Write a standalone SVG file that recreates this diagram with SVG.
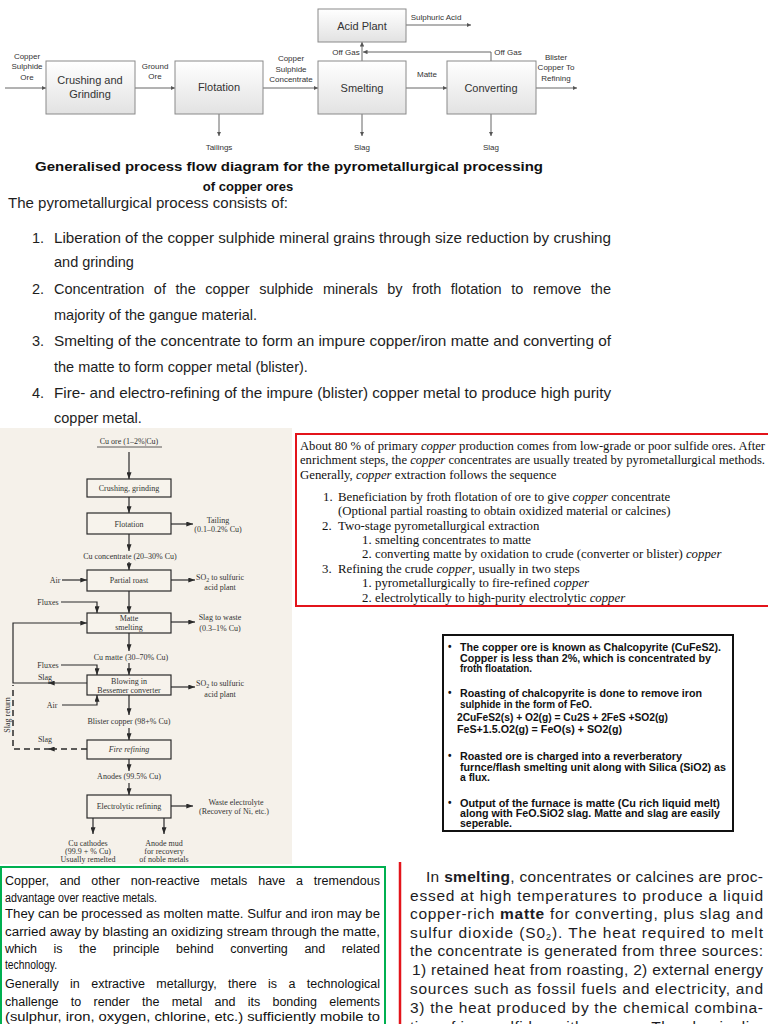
<svg xmlns="http://www.w3.org/2000/svg" width="768" height="1024" viewBox="0 0 768 1024">
<style>
.bx{fill:url(#boxg);stroke:#8a8a8a;stroke-width:1}
.tl{font-family:"Liberation Sans",Arial,sans-serif;font-size:8px;fill:#333;text-anchor:middle}
.tb{font-family:"Liberation Sans",Arial,sans-serif;font-size:11px;fill:#333;text-anchor:middle}
.con{fill:none;stroke:#666;stroke-width:1}
.sc{fill:none;stroke:#2a2a2a;stroke-width:1.2}
.scd{fill:none;stroke:#2a2a2a;stroke-width:1.5;stroke-dasharray:6 4}
.sbx{fill:#f7f3ec;stroke:#2a2a2a;stroke-width:1.2}
.st{font-family:"Liberation Serif","Times New Roman",serif;font-size:8px;fill:#333;text-anchor:middle}
.cap{font-family:"Liberation Sans",Arial,sans-serif;font-size:13px;font-weight:bold;fill:#111}
.li{font-family:"Liberation Sans",Arial,sans-serif;font-size:14.5px;fill:#1e1e1e}
.rt{font-family:"Liberation Serif","Times New Roman",serif;font-size:12.8px;fill:#111}
.bt{font-family:"Liberation Sans",Arial,sans-serif;font-size:10px;font-weight:bold;fill:#111}
.gt{font-family:"Liberation Sans",Arial,sans-serif;font-size:12.5px;fill:#111}
.pt{font-family:"Liberation Sans",Arial,sans-serif;font-size:15.5px;fill:#1c1c24}
</style>
<defs>
<linearGradient id="boxg" x1="0" y1="0" x2="0" y2="1">
<stop offset="0" stop-color="#ffffff"/>
<stop offset="1" stop-color="#e2e2e2"/>
</linearGradient>
<marker id="ah" viewBox="0 0 6 6" refX="6" refY="3" markerWidth="4.5" markerHeight="4.5" orient="auto" markerUnits="userSpaceOnUse">
<path d="M0,0 L6,3 L0,6 z" fill="#555"/>
</marker>
<marker id="sa" viewBox="0 0 8 6" refX="8" refY="3" markerWidth="7" markerHeight="5" orient="auto" markerUnits="userSpaceOnUse">
<path d="M0,0 L8,3 L0,6 z" fill="#2a2a2a"/>
</marker>
<clipPath id="page"><rect x="0" y="0" width="768" height="1024"/></clipPath>
</defs>
<rect x="0" y="0" width="768" height="1024" fill="#ffffff"/>

<!-- ===== Top process flow diagram ===== -->
<g id="connectors">
<path class="con" d="M5,88 H46" marker-end="url(#ah)"/>
<path class="con" d="M135,88 H175" marker-end="url(#ah)"/>
<path class="con" d="M263,88 H318" marker-end="url(#ah)"/>
<path class="con" d="M406,88 H447" marker-end="url(#ah)"/>
<path class="con" d="M536,88 H577" marker-end="url(#ah)"/>
<path class="con" d="M219,114 V136" marker-end="url(#ah)"/>
<path class="con" d="M362,114 V136" marker-end="url(#ah)"/>
<path class="con" d="M491,114 V136" marker-end="url(#ah)"/>
<path class="con" d="M362,61 V42" marker-end="url(#ah)"/>
<path class="con" d="M491,61 V52 H363" marker-end="url(#ah)"/>
<path class="con" d="M406,25 H471" marker-end="url(#ah)"/>
</g>
<g id="crushing">
<rect class="bx" x="46" y="61" width="89" height="53"/>
<text class="tb" x="90" y="84">Crushing and</text>
<text class="tb" x="90" y="98">Grinding</text>
</g>
<g id="flotation">
<rect class="bx" x="175" y="61" width="88" height="53"/>
<text class="tb" x="219" y="91">Flotation</text>
</g>
<g id="smelting">
<rect class="bx" x="318" y="61" width="88" height="53"/>
<text class="tb" x="362" y="92">Smelting</text>
</g>
<g id="acid-plant">
<rect class="bx" x="318" y="9" width="88" height="33"/>
<text class="tb" x="362" y="30">Acid Plant</text>
</g>
<g id="converting">
<rect class="bx" x="447" y="61" width="89" height="53"/>
<text class="tb" x="491" y="92">Converting</text>
</g>
<g id="flow-labels">
<text class="tl" x="27" y="59">Copper</text>
<text class="tl" x="27" y="69">Sulphide</text>
<text class="tl" x="27" y="80">Ore</text>
<text class="tl" x="155" y="69">Ground</text>
<text class="tl" x="155" y="79">Ore</text>
<text class="tl" x="291" y="61">Copper</text>
<text class="tl" x="291" y="72">Sulphide</text>
<text class="tl" x="291" y="82">Concentrate</text>
<text class="tl" x="427" y="77">Matte</text>
<text class="tl" x="556" y="60">Blister</text>
<text class="tl" x="556" y="70">Copper To</text>
<text class="tl" x="556" y="81">Refining</text>
<text class="tl" x="346" y="55">Off Gas</text>
<text class="tl" x="508" y="55">Off Gas</text>
<text class="tl" x="436" y="20">Sulphuric Acid</text>
<text class="tl" x="219" y="150">Tailings</text>
<text class="tl" x="362" y="150">Slag</text>
<text class="tl" x="491" y="150">Slag</text>
</g>

<!-- ===== Caption and list ===== -->
<text class="cap" x="35" y="171" textLength="508" lengthAdjust="spacingAndGlyphs">Generalised process flow diagram for the pyrometallurgical processing</text>
<text class="cap" x="248" y="191" text-anchor="middle">of copper ores</text>
<text class="li" x="8" y="208" font-size="15" textLength="280" lengthAdjust="spacingAndGlyphs">The pyrometallurgical process consists of:</text>
<text class="li" x="32" y="243">1.</text>
<text class="li" x="54" y="243" textLength="557" lengthAdjust="spacingAndGlyphs">Liberation of the copper sulphide mineral grains through size reduction by crushing</text>
<text class="li" x="54" y="267">and grinding</text>
<text class="li" x="32" y="294">2.</text>
<text class="li" x="54" y="294" word-spacing="5.6" textLength="557" lengthAdjust="spacing">Concentration of the copper sulphide minerals by froth flotation to remove the</text>
<text class="li" x="54" y="320">majority of the gangue material.</text>
<text class="li" x="32" y="346">3.</text>
<text class="li" x="54" y="346" textLength="557" lengthAdjust="spacingAndGlyphs">Smelting of the concentrate to form an impure copper/iron matte and converting of</text>
<text class="li" x="54" y="372">the matte to form copper metal (blister).</text>
<text class="li" x="32" y="398">4.</text>
<text class="li" x="54" y="398" textLength="557" lengthAdjust="spacingAndGlyphs">Fire- and electro-refining of the impure (blister) copper metal to produce high purity</text>
<text class="li" x="54" y="423">copper metal.</text>

<!-- ===== Scanned flowchart ===== -->
<rect x="0" y="428" width="292" height="436" fill="#f5f1ea"/>
<g id="scan-connectors">
<path class="sc" d="M129,452 V479" marker-end="url(#sa)"/>
<path class="sc" d="M129,497 V513" marker-end="url(#sa)"/>
<path class="sc" d="M171,524 H193" marker-end="url(#sa)"/>
<path class="sc" d="M129,534 V551" marker-end="url(#sa)"/>
<path class="sc" d="M129,562 V570" marker-end="url(#sa)"/>
<path class="sc" d="M62,580 H87" marker-end="url(#sa)"/>
<path class="sc" d="M171,580 H195" marker-end="url(#sa)"/>
<path class="sc" d="M129,591 V613" marker-end="url(#sa)"/>
<path class="sc" d="M61,602 H97 V613" marker-end="url(#sa)"/>
<path class="sc" d="M171,622 H195" marker-end="url(#sa)"/>
<path class="sc" d="M87,683 H48" marker-end="url(#sa)"/>
<path class="sc" d="M50,683 H13 V623 H87" marker-end="url(#sa)"/>
<path class="scd" d="M87,749 H48" marker-end="url(#sa)"/>
<path class="scd" d="M50,749 H13 V685"/>
<path class="sc" d="M129,633 V651" marker-end="url(#sa)"/>
<path class="sc" d="M129,663 V675" marker-end="url(#sa)"/>
<path class="sc" d="M61,665 H97 V675" marker-end="url(#sa)"/>
<path class="sc" d="M62,705 H97 V695" marker-end="url(#sa)"/>
<path class="sc" d="M171,687 H195" marker-end="url(#sa)"/>
<path class="sc" d="M129,695 V715" marker-end="url(#sa)"/>
<path class="sc" d="M129,728 V740" marker-end="url(#sa)"/>
<path class="sc" d="M129,759 V771" marker-end="url(#sa)"/>
<path class="sc" d="M129,783 V795" marker-end="url(#sa)"/>
<path class="sc" d="M171,806 H193" marker-end="url(#sa)"/>
<path class="sc" d="M93,818 V834" marker-end="url(#sa)"/>
<path class="sc" d="M164,818 V834" marker-end="url(#sa)"/>
</g>
<g id="s-crushing"><rect class="sbx" x="87" y="479" width="84" height="18"/><text class="st" x="129" y="491">Crushing, grinding</text></g>
<g id="s-flotation"><rect class="sbx" x="87" y="513" width="84" height="21"/><text class="st" x="129" y="527">Flotation</text></g>
<g id="s-roast"><rect class="sbx" x="87" y="570" width="84" height="21"/><text class="st" x="129" y="583">Partial roast</text></g>
<g id="s-matte"><rect class="sbx" x="87" y="613" width="84" height="20"/><text class="st" x="129" y="621">Matte</text><text class="st" x="129" y="630">smelting</text></g>
<g id="s-blowing"><rect class="sbx" x="87" y="675" width="84" height="20"/><text class="st" x="129" y="684">Blowing in</text><text class="st" x="129" y="693">Bessemer converter</text></g>
<g id="s-fire"><rect class="sbx" x="87" y="740" width="84" height="19"/><text class="st" x="129" y="752" font-style="italic">Fire refining</text></g>
<g id="s-electro"><rect class="sbx" x="87" y="795" width="84" height="23"/><text class="st" x="129" y="809">Electrolytic refining</text></g>
<g id="scan-labels">
<text class="st" x="129" y="444">Cu ore (1–2%|Cu)</text>
<line x1="97" y1="447" x2="162" y2="447" stroke="#333" stroke-width="0.8"/>
<text class="st" x="218" y="523">Tailing</text>
<text class="st" x="218" y="532">(0.1–0.2% Cu)</text>
<text class="st" x="130" y="559">Cu concentrate (20–30% Cu)</text>
<text class="st" x="55" y="583">Air</text>
<text class="st" x="220" y="580">SO<tspan font-size="6" dy="2">2</tspan><tspan dy="-2"> to sulfuric</tspan></text>
<text class="st" x="220" y="590">acid plant</text>
<text class="st" x="48" y="605">Fluxes</text>
<text class="st" x="220" y="620">Slag to waste</text>
<text class="st" x="220" y="631">(0.3–1% Cu)</text>
<text class="st" x="131" y="660">Cu matte (30–70% Cu)</text>
<text class="st" x="48" y="668">Fluxes</text>
<text class="st" x="45" y="680">Slag</text>
<text class="st" x="52" y="708">Air</text>
<text class="st" x="220" y="686">SO<tspan font-size="6" dy="2">2</tspan><tspan dy="-2"> to sulfuric</tspan></text>
<text class="st" x="220" y="697">acid plant</text>
<text class="st" x="129" y="724">Blister copper (98+% Cu)</text>
<text class="st" x="45" y="742">Slag</text>
<text class="st" x="10" y="715" transform="rotate(-90 10 715)">Slag return</text>
<text class="st" x="129" y="779">Anodes (99.5% Cu)</text>
<text class="st" x="236" y="805">Waste electrolyte</text>
<text class="st" x="234" y="814">(Recovery of Ni, etc.)</text>
<text class="st" x="88" y="846">Cu cathodes</text>
<text class="st" x="88" y="854">(99.9 + % Cu)</text>
<text class="st" x="88" y="862">Usually remelted</text>
<text class="st" x="164" y="846">Anode mud</text>
<text class="st" x="164" y="854">for recovery</text>
<text class="st" x="164" y="862">of noble metals</text>
</g>

<!-- ===== Red bordered text box ===== -->
<g clip-path="url(#page)">
<rect x="296" y="434" width="480" height="172" fill="#fff" stroke="#e3141b" stroke-width="2"/>
<text class="rt" x="300" y="449.5" textLength="465" lengthAdjust="spacingAndGlyphs">About 80 % of primary <tspan font-style="italic">copper</tspan> production comes from low-grade or poor sulfide ores. After</text>
<text class="rt" x="300" y="464" textLength="465" lengthAdjust="spacingAndGlyphs">enrichment steps, the <tspan font-style="italic">copper</tspan> concentrates are usually treated by pyrometallurgical methods.</text>
<text class="rt" x="300" y="478.5">Generally, <tspan font-style="italic">copper</tspan> extraction follows the sequence</text>
<text class="rt" x="323" y="500.5">1.</text>
<text class="rt" x="338" y="500.5">Beneficiation by froth flotation of ore to give <tspan font-style="italic">copper</tspan> concentrate</text>
<text class="rt" x="338" y="514.5">(Optional partial roasting to obtain oxidized material or calcines)</text>
<text class="rt" x="322" y="529.5">2.</text>
<text class="rt" x="338" y="529.5">Two-stage pyrometallurgical extraction</text>
<text class="rt" x="362" y="543.5">1.</text>
<text class="rt" x="375" y="543.5">smelting concentrates to matte</text>
<text class="rt" x="362" y="558">2.</text>
<text class="rt" x="375" y="558">converting matte by oxidation to crude (converter or blister) <tspan font-style="italic">copper</tspan></text>
<text class="rt" x="322" y="572.5">3.</text>
<text class="rt" x="338" y="572.5">Refining the crude <tspan font-style="italic">copper</tspan>, usually in two steps</text>
<text class="rt" x="362" y="587">1.</text>
<text class="rt" x="375" y="587">pyrometallurgically to fire-refined <tspan font-style="italic">copper</tspan></text>
<text class="rt" x="362" y="601.5">2.</text>
<text class="rt" x="375" y="601.5">electrolytically to high-purity electrolytic <tspan font-style="italic">copper</tspan></text>
</g>

<!-- ===== Black bordered bullet box ===== -->
<rect x="443" y="635" width="290" height="196" fill="#fff" stroke="#111" stroke-width="2"/>
<text class="bt" x="448" y="650">•</text>
<text class="bt" x="460" y="650.5" textLength="261" lengthAdjust="spacingAndGlyphs">The copper ore is known as Chalcopyrite (CuFeS2).</text>
<text class="bt" x="460" y="661.5" textLength="251" lengthAdjust="spacingAndGlyphs">Copper is less than 2%, which is concentrated by</text>
<text class="bt" x="460" y="671.5" textLength="72" lengthAdjust="spacingAndGlyphs">froth floatation.</text>
<text class="bt" x="448" y="696">•</text>
<text class="bt" x="460" y="696.5" textLength="242" lengthAdjust="spacingAndGlyphs">Roasting of chalcopyrite is done to remove iron</text>
<text class="bt" x="460" y="707.5" textLength="132" lengthAdjust="spacingAndGlyphs">sulphide in the form of FeO.</text>
<text class="bt" x="457" y="720.5" textLength="211" lengthAdjust="spacingAndGlyphs">2CuFeS2(s) + O2(g) = Cu2S + 2FeS +SO2(g)</text>
<text class="bt" x="457" y="732.5" textLength="165" lengthAdjust="spacingAndGlyphs">FeS+1.5.O2(g) = FeO(s) + SO2(g)</text>
<text class="bt" x="448" y="759">•</text>
<text class="bt" x="460" y="759.5" textLength="222" lengthAdjust="spacingAndGlyphs">Roasted ore is charged into a reverberatory</text>
<text class="bt" x="460" y="770.5" textLength="266" lengthAdjust="spacingAndGlyphs">furnce/flash smelting unit along with Silica (SiO2) as</text>
<text class="bt" x="460" y="780.5" textLength="30" lengthAdjust="spacingAndGlyphs">a flux.</text>
<text class="bt" x="448" y="806">•</text>
<text class="bt" x="460" y="806.5" textLength="260" lengthAdjust="spacingAndGlyphs">Output of the furnace is matte (Cu rich liquid melt)</text>
<text class="bt" x="460" y="816.5" textLength="260" lengthAdjust="spacingAndGlyphs">along with FeO.SiO2 slag. Matte and slag are easily</text>
<text class="bt" x="460" y="826.5" textLength="52" lengthAdjust="spacingAndGlyphs">seperable.</text>

<!-- ===== Green bordered text box ===== -->
<rect x="1" y="867" width="384" height="170" fill="#fff" stroke="#00b050" stroke-width="2"/>
<text class="gt" x="5" y="884.5" word-spacing="7.3" textLength="375" lengthAdjust="spacing">Copper, and other non-reactive metals have a tremendous</text>
<text class="gt" x="5" y="901.5" textLength="152" lengthAdjust="spacingAndGlyphs">advantage over reactive metals.</text>
<text class="gt" x="5" y="917.5" textLength="375" lengthAdjust="spacingAndGlyphs">They can be processed as molten matte. Sulfur and iron may be</text>
<text class="gt" x="5" y="936" textLength="375" lengthAdjust="spacingAndGlyphs">carried away by blasting an oxidizing stream through the matte,</text>
<text class="gt" x="5" y="952.5" word-spacing="13.1" textLength="375" lengthAdjust="spacing">which is the principle behind converting and related</text>
<text class="gt" x="5" y="969" textLength="52" lengthAdjust="spacingAndGlyphs">technology.</text>
<text class="gt" x="5" y="987.5" word-spacing="7.9" textLength="375" lengthAdjust="spacing">Generally in extractive metallurgy, there is a technological</text>
<text class="gt" x="5" y="1006" word-spacing="8.8" textLength="375" lengthAdjust="spacing">challenge to render the metal and its bonding elements</text>
<text class="gt" x="5" y="1021" textLength="375" lengthAdjust="spacingAndGlyphs">(sulphur, iron, oxygen, chlorine, etc.) sufficiently mobile to</text>

<!-- ===== Red-lined smelting text ===== -->
<line x1="400" y1="862" x2="400" y2="1024" stroke="#e3141b" stroke-width="2.5"/>
<g clip-path="url(#page)">
<text class="pt" x="426" y="881.5" textLength="337" lengthAdjust="spacing">In <tspan font-weight="bold">smelting</tspan>, concentrates or calcines are proc-</text>
<text class="pt" x="410" y="900.5" textLength="353" lengthAdjust="spacing">essed at high temperatures to produce a liquid</text>
<text class="pt" x="410" y="918.5" textLength="353" lengthAdjust="spacing">copper-rich <tspan font-weight="bold">matte</tspan> for converting, plus slag and</text>
<text class="pt" x="410" y="937.5" textLength="353" lengthAdjust="spacing">sulfur dioxide (S0<tspan font-size="9" dy="2">2</tspan><tspan dy="-2">). The heat required to melt</tspan></text>
<text class="pt" x="410" y="955.5" textLength="353" lengthAdjust="spacing">the concentrate is generated from three sources:</text>
<text class="pt" x="412" y="974.5" textLength="351" lengthAdjust="spacing">1) retained heat from roasting, 2) external energy</text>
<text class="pt" x="410" y="993.5" textLength="353" lengthAdjust="spacing">sources such as fossil fuels and electricity, and</text>
<text class="pt" x="410" y="1012.5" textLength="353" lengthAdjust="spacing">3) the heat produced by the chemical combina-</text>
<text class="pt" x="410" y="1031.5" textLength="353" lengthAdjust="spacing">tion of iron sulfides with oxygen. The slag is dis-</text>
</g>
</svg>
